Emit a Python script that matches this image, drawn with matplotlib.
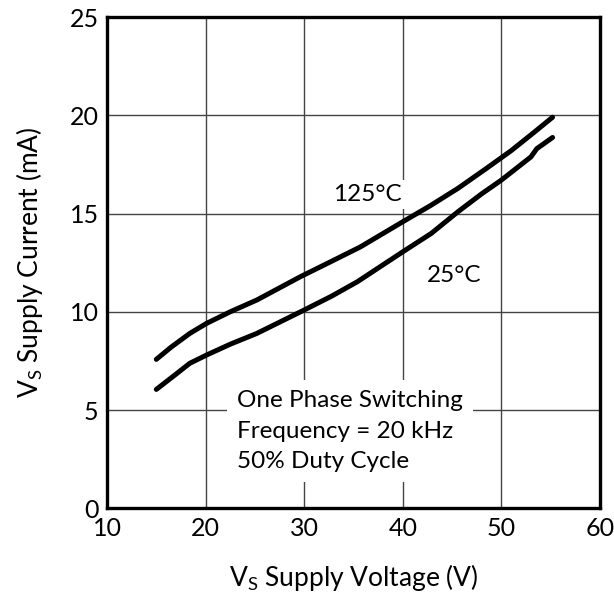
import matplotlib
matplotlib.use("Agg")
import matplotlib.pyplot as plt

plt.rcParams['font.family'] = ['Lato', 'DejaVu Sans']
plt.rcParams['mathtext.fontset'] = 'custom'
plt.rcParams['mathtext.rm'] = 'Lato'

# curve data
v_125 = [15.0, 16.5, 18.4, 20.1, 22.5, 25.2, 29.6, 32.5, 35.7, 40.0, 42.8, 45.6, 48.5, 51.0, 53.0, 55.2]
i_125 = [7.58, 8.2, 8.9, 9.41, 10.0, 10.6, 11.78, 12.5, 13.3, 14.58, 15.4, 16.28, 17.3, 18.2, 19.0, 19.9]

v_25 = [15.0, 16.8, 18.4, 20.1, 22.5, 25.2, 30.0, 32.8, 35.4, 40.0, 42.9, 45.6, 48.0, 50.0, 53.0, 53.6, 55.2]
i_25 = [6.05, 6.75, 7.38, 7.8, 8.35, 8.9, 10.09, 10.8, 11.53, 13.05, 13.99, 15.09, 16.0, 16.7, 17.88, 18.3, 18.87]

x_ticks = [10, 20, 30, 40, 50, 60]
y_ticks = [0, 5, 10, 15, 20, 25]

fig = plt.figure(figsize=(6.14, 5.99), dpi=100)
ax = fig.add_axes([0.1743, 0.1514, 0.8027, 0.8202])

ax.plot(v_125, i_125, color='black', lw=3.6, solid_capstyle='round', solid_joinstyle='round', zorder=3)
ax.plot(v_25, i_25, color='black', lw=3.6, solid_capstyle='round', solid_joinstyle='round', zorder=3)

ax.set_xlim(10, 60)
ax.set_ylim(0, 25)
ax.set_xticks(x_ticks)
ax.set_yticks(y_ticks)
ax.tick_params(length=0, labelsize=18, pad=6)
ax.grid(True, color='#444444', lw=1.0)
ax.set_axisbelow(True)
for s in ax.spines.values():
    s.set_linewidth(2.4)

ax.set_xlabel(r'$\mathrm{V_S}$ Supply Voltage (V)', fontsize=19, labelpad=16)
ax.set_ylabel(r'$\mathrm{V_S}$ Supply Current (mA)', fontsize=19, labelpad=18)

box = dict(facecolor='white', edgecolor='none', pad=3)
ax.text(36.4, 15.95, '125°C', fontsize=17.5, ha='center', va='center', bbox=box, zorder=2)
ax.text(45.2, 11.85, '25°C', fontsize=17.5, ha='center', va='center', bbox=box, zorder=2)
ax.text(23.2, 3.93, 'One Phase Switching\nFrequency = 20 kHz\n50% Duty Cycle', fontsize=17.5,
        ha='left', va='center', linespacing=1.58,
        bbox=dict(facecolor='white', edgecolor='none', pad=7), zorder=2)

fig.savefig('out.png', dpi=100)
plt.close(fig)
